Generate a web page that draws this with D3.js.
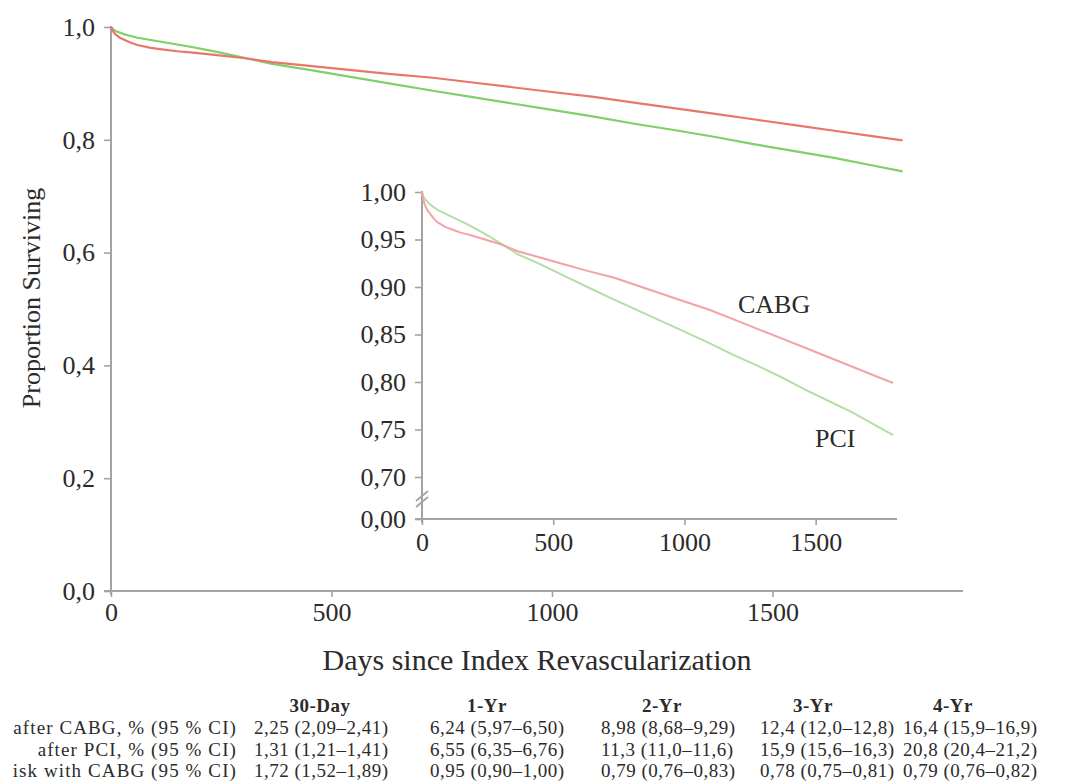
<!DOCTYPE html>
<html>
<head>
<meta charset="utf-8">
<script src="https://cdn.jsdelivr.net/npm/d3@7"></script>
<style>
  html, body { margin: 0; padding: 0; background: #fff; }
  svg { display: block; font-family: "Liberation Serif", "Times New Roman", serif; }
</style>
</head>
<body>
<svg id="chart" width="1075" height="784"></svg>
<script>
// Kaplan–Meier survival after CABG vs PCI (days since index revascularization)
const days = [0, 5, 10, 20, 30, 45, 60, 90, 120, 150, 180, 240, 300, 365, 450, 540, 630, 730,
              820, 910, 1000, 1095, 1190, 1280, 1370, 1460, 1550, 1640, 1730, 1795];
const cabgSurvival = [1.000, 0.992, 0.987, 0.981, 0.9775, 0.972, 0.968, 0.963, 0.960, 0.957, 0.955,
                      0.950, 0.945, 0.9376, 0.931, 0.924, 0.917, 0.910, 0.9016, 0.8932, 0.8848, 0.876,
                      0.8656, 0.8557, 0.8459, 0.836, 0.826, 0.816, 0.806, 0.799];
const pciSurvival = [1.000, 0.996, 0.993, 0.990, 0.987, 0.984, 0.981, 0.977, 0.973, 0.969, 0.965,
                     0.956, 0.946, 0.9345, 0.924, 0.912, 0.900, 0.887, 0.8757, 0.8643, 0.853, 0.841,
                     0.828, 0.817, 0.805, 0.792, 0.780, 0.768, 0.754, 0.744];

const mainXTicks = [0, 500, 1000, 1500];
const mainYTicks = [0, 0.2, 0.4, 0.6, 0.8, 1.0];
const insetXTicks = [0, 500, 1000, 1500];
const insetYTicks = [0, 0.70, 0.75, 0.80, 0.85, 0.90, 0.95, 1.00];

// Summary table (row labels run off the left edge of the figure)
const tableColumns = ["30-Day", "1-Yr", "2-Yr", "3-Yr", "4-Yr"];
const tableRowLabels = ["after CABG, % (95 % CI)",
                        "after PCI, % (95 % CI)",
                        "isk with CABG (95 % CI)"];
const cabgMortality = ["2,25 (2,09–2,41)", "6,24 (5,97–6,50)", "8,98 (8,68–9,29)", "12,4 (12,0–12,8)", "16,4 (15,9–16,9)"];
const pciMortality  = ["1,31 (1,21–1,41)", "6,55 (6,35–6,76)", "11,3 (11,0–11,6)", "15,9 (15,6–16,3)", "20,8 (20,4–21,2)"];
const relativeRisk  = ["1,72 (1,52–1,89)", "0,95 (0,90–1,00)", "0,79 (0,76–0,83)", "0,78 (0,75–0,81)", "0,79 (0,76–0,82)"];

const svg = d3.select("#chart");
const axisColor = "#a3a3a3";
const textColor = "#2b2b2b";
const comma = d3.formatLocale({decimal: ",", thousands: "", grouping: [3], currency: ["", ""]});
const fmt1 = comma.format(".1f");
const fmt2 = comma.format(".2f");

const cabg = days.map((d, i) => ({day: d, s: cabgSurvival[i]}));
const pci = days.map((d, i) => ({day: d, s: pciSurvival[i]}));

function styleAxis(g) {
  g.select(".domain").remove();
  g.selectAll(".tick line").attr("stroke", axisColor).attr("stroke-width", 1.6);
  g.selectAll(".tick text").attr("fill", textColor).attr("font-family", "Liberation Serif")
    .attr("font-size", 26);
}

// ---------- Main panel ----------
const x = d3.scaleLinear().domain([0, 1932]).range([111, 963]);
const y = d3.scaleLinear().domain([0, 1]).range([591, 27]);

const main = svg.append("g");
main.append("line").attr("x1", x(0)).attr("x2", x(0)).attr("y1", y(1) - 1).attr("y2", y(0) + 4)
  .attr("stroke", axisColor).attr("stroke-width", 2);
main.append("line").attr("x1", x(0) - 7).attr("x2", x.range()[1]).attr("y1", y(0)).attr("y2", y(0))
  .attr("stroke", axisColor).attr("stroke-width", 2);

main.append("g").attr("transform", `translate(0,${y(0)})`)
  .call(d3.axisBottom(x).tickValues(mainXTicks).tickSize(6).tickPadding(6).tickFormat(d3.format("d")))
  .call(styleAxis);

main.append("g").attr("transform", `translate(${x(0)},0)`)
  .call(d3.axisLeft(y).tickValues(mainYTicks).tickSize(7).tickPadding(9).tickFormat(fmt1))
  .call(styleAxis);

const mainLine = d3.line().x(d => x(d.day)).y(d => y(d.s));
main.append("path").datum(pci).attr("d", mainLine).attr("fill", "none")
  .attr("stroke", "#7fcf6b").attr("stroke-width", 2.2).attr("stroke-linejoin", "round");
main.append("path").datum(cabg).attr("d", mainLine).attr("fill", "none")
  .attr("stroke", "#e8766a").attr("stroke-width", 2.2).attr("stroke-linejoin", "round");

svg.append("text").attr("transform", "translate(40,298) rotate(-90)")
  .attr("text-anchor", "middle").attr("font-size", 26).attr("fill", textColor)
  .text("Proportion Surviving");
svg.append("text").attr("x", 537).attr("y", 670)
  .attr("text-anchor", "middle").attr("font-size", 30).attr("fill", textColor)
  .text("Days since Index Revascularization");

// ---------- Inset panel (broken y axis) ----------
const xi = d3.scaleLinear().domain([0, 1810]).range([422, 897]);
const yi = d3.scaleLinear().domain([0, 0.70, 1.00]).range([519, 477, 192]);

const inset = svg.append("g");
inset.append("line").attr("x1", xi(0)).attr("x2", xi(0)).attr("y1", yi(1) - 1).attr("y2", yi(0) + 4)
  .attr("stroke", axisColor).attr("stroke-width", 2);
inset.append("line").attr("x1", xi(0) - 7).attr("x2", xi.range()[1]).attr("y1", yi(0)).attr("y2", yi(0))
  .attr("stroke", axisColor).attr("stroke-width", 2);
// axis break marks
const breakY = (yi(0) + yi(0.70)) / 2 + 1;
[-3, 3].forEach(off => {
  inset.append("line")
    .attr("x1", xi(0) - 6).attr("y1", breakY + off + 5)
    .attr("x2", xi(0) + 6).attr("y2", breakY + off - 5)
    .attr("stroke", axisColor).attr("stroke-width", 1.8);
});

inset.append("g").attr("transform", `translate(0,${yi(0)})`)
  .call(d3.axisBottom(xi).tickValues(insetXTicks).tickSize(6).tickPadding(8).tickFormat(d3.format("d")))
  .call(styleAxis);

inset.append("g").attr("transform", `translate(${xi(0)},0)`)
  .call(d3.axisLeft(yi).tickValues(insetYTicks).tickSize(7).tickPadding(9).tickFormat(fmt2))
  .call(styleAxis);

const insetLine = d3.line().x(d => xi(d.day)).y(d => yi(d.s));
inset.append("path").datum(pci).attr("d", insetLine).attr("fill", "none")
  .attr("stroke", "#b4dea8").attr("stroke-width", 2).attr("stroke-linejoin", "round");
inset.append("path").datum(cabg).attr("d", insetLine).attr("fill", "none")
  .attr("stroke", "#f1a3a6").attr("stroke-width", 2).attr("stroke-linejoin", "round");

inset.append("text").attr("x", 738).attr("y", 313).attr("font-size", 26).attr("fill", textColor).text("CABG");
inset.append("text").attr("x", 815).attr("y", 447).attr("font-size", 26).attr("fill", textColor).text("PCI");

// ---------- Table ----------
const colStarts = [254, 430, 601, 760, 903];
const headerCenters = [320, 487, 662, 813, 953];
const rowY = [712, 734, 755.5, 777];
const table = svg.append("g").attr("font-size", 19).attr("fill", textColor);

table.selectAll("text.head").data(tableColumns).join("text")
  .attr("class", "head").attr("x", (d, i) => headerCenters[i]).attr("y", rowY[0])
  .attr("text-anchor", "middle").attr("font-weight", "bold").attr("letter-spacing", 0.5)
  .text(d => d);

const rows = [cabgMortality, pciMortality, relativeRisk];
rows.forEach((vals, r) => {
  table.append("text").attr("x", 237).attr("y", rowY[r + 1]).attr("text-anchor", "end")
    .attr("letter-spacing", 1.1).text(tableRowLabels[r]);
  table.selectAll(`text.r${r}`).data(vals).join("text")
    .attr("class", `r${r}`).attr("x", (d, i) => colStarts[i]).attr("y", rowY[r + 1])
    .attr("letter-spacing", 0.5).text(d => d);
});
</script>
</body>
</html>
